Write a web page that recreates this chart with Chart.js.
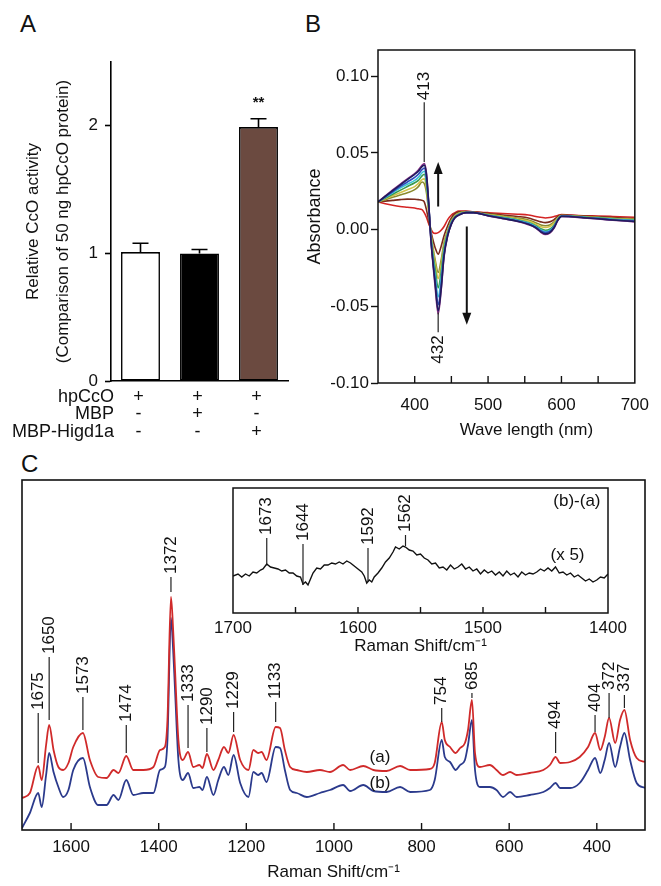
<!DOCTYPE html>
<html>
<head>
<meta charset="utf-8">
<script src="https://cdn.jsdelivr.net/npm/chart.js@4.4.0/dist/chart.umd.min.js"></script>
<style>
  html, body { margin: 0; padding: 0; background: #fff; }
  body { width: 661px; height: 886px; position: relative; overflow: hidden; font-family: 'Liberation Sans', Arial, Helvetica, sans-serif; }
  canvas { position: absolute; }
  .plabel { position: absolute; font-size: 24px; line-height: 24px; color: #111; }
</style>
</head>
<body>
<div class="plabel" style="left:20px;top:12px">A</div>
<div class="plabel" style="left:305px;top:12px">B</div>
<div class="plabel" style="left:21px;top:452px">C</div>
<canvas id="cA" width="300" height="450" style="left:0;top:0"></canvas>
<canvas id="cB" width="361" height="450" style="left:300px;top:0"></canvas>
<canvas id="cC" width="661" height="446" style="left:0;top:440px"></canvas>
<canvas id="cI" width="440" height="190" style="left:200px;top:470px"></canvas>
<script>
// ---------------- DATA ----------------
// Panel A
const catsA = ['hpCcO', 'hpCcO + MBP', 'hpCcO + MBP-Higd1a'];
const valsA = [1.01, 1.00, 1.99];
const errA = [0.07, 0.03, 0.065];
const sigA = ['', '', '**'];
const yTicksA = [0, 1, 2];
const rowLabelsA = ['hpCcO', 'MBP', 'MBP-Higd1a'];
const signsA = [['+', '+', '+'], ['-', '+', '-'], ['-', '-', '+']];
const yTitleA = ['Relative CcO activity', '(Comparison of 50 ng hpCcO protein)'];

// Panel B (wavelength, nm) and difference absorbance traces
const wlB = [350,360,370,380,390,400,405,410,413,416,419,422,425,428,432,436,440,445,450,455,460,470,480,500,520,540,555,565,572,578,584,590,595,600,610,630,650,670,700];
const absNavy   = [.018,.0217,.0254,.029,.0325,.036,.038,.041,.042,.036,.018,-.006,-.022,-.036,-.053,-.039,-.017,-.004,.0035,.0078,.0094,.011,.011,.009,.0072,.0054,.0034,.0012,-.0015,-.0028,-.002,.0013,.006,.0086,.0085,.0077,.007,.0062,.0052];
const absPurple = [.018,.0219,.0258,.0295,.033,.0365,.0388,.0418,.043,.037,.018,-.006,-.023,-.038,-.055,-.040,-.018,-.004,.0035,.0077,.0093,.011,.011,.0089,.0071,.0053,.0032,.001,-.0018,-.0032,-.0023,.001,.0058,.0085,.0084,.0076,.0069,.0061,.005];
const absBlue   = [.018,.0213,.0246,.028,.031,.034,.036,.039,.040,.034,.017,-.005,-.021,-.033,-.049,-.036,-.016,-.0035,.004,.0078,.0096,.011,.011,.0091,.0074,.0057,.0038,.0016,-.0008,-.002,-.0012,.0018,.0063,.0087,.0086,.0078,.0072,.0064,.0056];
const absCyan   = [.018,.021,.024,.027,.0295,.032,.034,.037,.038,.032,.016,-.004,-.019,-.030,-.044,-.032,-.014,-.003,.0045,.008,.0098,.0111,.011,.0093,.0077,.006,.0042,.002,-.0002,-.0013,-.0006,.0022,.0065,.0088,.0087,.008,.0074,.0067,.006];
const absGreen  = [.018,.0205,.023,.0255,.028,.0305,.032,.035,.036,.030,.015,-.003,-.016,-.026,-.038,-.028,-.012,-.002,.005,.0083,.010,.0112,.0111,.0095,.008,.0063,.0046,.0025,.0005,-.0005,.0002,.0028,.0068,.0089,.0088,.0081,.0076,.0069,.0062];
const absYellow = [.018,.020,.022,.024,.026,.028,.030,.0325,.033,.027,.013,-.002,-.013,-.022,-.032,-.023,-.010,-.001,.0055,.0088,.0105,.0113,.0112,.0097,.0085,.007,.0055,.0035,.0018,.0013,.002,.0042,.0075,.0091,.0089,.0083,.0078,.0072,.0065];
const absOlive  = [.018,.0195,.021,.0225,.024,.026,.028,.031,.030,.024,.012,-.0015,-.012,-.020,-.028,-.020,-.0085,-.0005,.006,.009,.0108,.0115,.0113,.010,.0088,.0075,.0062,.0045,.003,.0025,.003,.005,.0078,.0092,.009,.0085,.008,.0074,.0068];
const absBrown  = [.018,.0185,.019,.0195,.0198,.0197,.0195,.019,.018,.013,.006,-.001,-.007,-.012,-.016,-.011,-.004,.0025,.0075,.0105,.0115,.0118,.0115,.0105,.0095,.0085,.0075,.006,.005,.0045,.005,.0065,.0085,.0095,.0093,.0088,.0083,.0078,.0072];
const absRed    = [.018,.0168,.0158,.015,.0145,.014,.0135,.013,.011,.008,.004,.0005,-.002,-.0025,-.002,-.0005,.002,.0065,.0095,.011,.012,.012,.0115,.011,.0105,.010,.0095,.0085,.008,.0075,.0078,.0085,.0092,.0098,.0095,.009,.0088,.0085,.008];
const yTicksB = [-0.10, -0.05, 0.00, 0.05, 0.10];
const xTicksB = [400, 450, 500, 550, 600, 650, 700];
const xTickLabelsB = ['400', '', '500', '', '600', '', '700'];
const peakB = [413, 432];
const peakBFrom = [0.044, -0.054];
const peakBTo = [0.083, -0.067];
const arrowNmB = [432, 471];
const arrowFromB = [0.015, 0.002];
const arrowToB = [0.044, -0.062];

// Panel C (Raman shift, cm-1), intensities (arbitrary units)
const shiftC = [1712,1694,1675,1667,1657,1650,1640,1629,1618,1606,1595,1573,1557,1538,1519,1503,1492,1474,1458,1435,1412,1397,1386,1380,1372,1367,1363,1355,1345,1333,1321,1307,1300,1290,1275,1264,1251,1241,1229,1214,1195,1184,1173,1165,1154,1133,1123,1112,1100,1085,1062,1032,1009,979,963,933,910,880,849,826,781,770,754,747,735,722,712,701,694,685,678,667,644,629,614,598,583,553,522,507,494,484,461,439,420,404,392,382,372,358,347,337,324,309,290];
const intA = [32,37,64,50,85,105,80,63,60,67,83,97,70,53,52,60,57,74,60,60,63,80,83,110,233,200,163,90,70,78,63,65,62,76,60,70,83,77,95,70,60,80,77,78,70,103,102,80,63,60,58,60,58,65,60,64,60,59,64,60,61,67,108,90,83,77,82,87,100,130,77,63,65,60,55,58,55,57,60,65,73,67,68,73,83,97,80,93,112,87,110,120,90,72,68];
const intB = [2,17,37,23,55,77,58,43,33,40,60,72,43,25,25,35,30,50,35,37,37,60,63,90,212,180,143,70,50,57,42,43,40,53,35,50,63,55,75,47,33,58,55,57,48,83,82,60,40,37,33,37,40,45,39,45,39,38,43,38,40,50,90,73,68,60,65,70,85,110,60,43,43,40,33,38,33,35,38,42,47,42,42,47,60,72,57,70,87,63,83,97,70,47,42];
const xTicksC = [400, 600, 800, 1000, 1200, 1400, 1600];
const xTickLabelsC = ['400', '600', '800', '1000', '1200', '1400', '1600'];
const peakC = [1675,1650,1573,1474,1372,1333,1290,1229,1133,754,685,494,404,372,337];
const peakLoC = [67,110,100,77,238,82,78,98,108,108,132,77,98,112,122];
const peakHiC = [117,173,133,105,253,125,102,118,128,122,137,98,115,137,135];
const traceLabelsC = ['(a)', '(b)'];
const traceLabelXC = [895, 895];
const traceLabelYC = [73, 47];

// Inset: difference spectrum (b)-(a), x5
const diffShift = [1700,1696,1693,1690,1687,1684,1681,1678,1676,1673,1670,1667,1664,1661,1658,1655,1652,1649,1646,1644,1642,1640,1638,1636,1633,1630,1627,1624,1621,1618,1615,1612,1609,1606,1603,1600,1597,1595,1593,1591,1589,1587,1584,1581,1578,1575,1572,1570,1567,1564,1562,1559,1556,1553,1550,1547,1544,1541,1538,1535,1532,1529,1526,1523,1520,1517,1514,1511,1508,1505,1502,1499,1496,1493,1490,1487,1484,1481,1478,1475,1472,1469,1466,1463,1460,1457,1454,1451,1448,1445,1442,1439,1436,1433,1430,1427,1424,1421,1418,1415,1412,1409,1406,1403,1400];
const diffInt = [37,39,36,39,37,41,40,43,44,49,46,45,44,42,43,40,40,37,36,29,31,28,34,40,45,44,48,48,50,49,51,49,52,50,47,44,41,37,30,33,31,36,40,45,51,55,61,66,64,67,66,63,62,58,59,55,53,49,50,45,46,43,48,44,46,49,44,46,42,44,39,43,40,42,38,41,37,42,38,40,36,41,38,40,39,41,44,42,45,42,46,40,41,38,40,36,38,35,32,34,31,33,36,35,39];
const xTicksIn = [1400, 1450, 1500, 1550, 1600, 1650, 1700];
const xTickLabelsIn = ['1400', '', '1500', '', '1600', '', '1700'];
const peakIn = [1673, 1644, 1592, 1562];
const peakInLo = [49, 28, 31, 67];
const peakInHi = [75, 69, 65, 78];

// ---------------- STYLE / HELPERS ----------------
const FONT = "'Liberation Sans', Arial, Helvetica, sans-serif";
Chart.defaults.font.family = FONT;
Chart.defaults.color = '#111';
Chart.defaults.animation = false;
Chart.defaults.events = [];
Chart.defaults.plugins.legend.display = false;
Chart.defaults.plugins.tooltip.enabled = false;

function vtext(ctx, s, x, y, align) {
  ctx.save();
  ctx.translate(x, y);
  ctx.rotate(-Math.PI / 2);
  ctx.textAlign = align;
  ctx.textBaseline = 'middle';
  ctx.fillText(s, 0, 0);
  ctx.restore();
}
function boxPlugin(lw) {
  return { id: 'box', afterDraw(c) {
    const a = c.chartArea, ctx = c.ctx;
    ctx.save(); ctx.strokeStyle = '#111'; ctx.lineWidth = lw;
    ctx.strokeRect(a.left, a.top, a.right - a.left, a.bottom - a.top);
    ctx.restore();
  }};
}
function inTicksPlugin(len) {
  return { id: 'inTicks', afterDraw(c) {
    const a = c.chartArea, ctx = c.ctx, xs = c.scales.x;
    ctx.save(); ctx.strokeStyle = '#111'; ctx.lineWidth = 1.4;
    xs.ticks.forEach(t => {
      const px = xs.getPixelForValue(t.value);
      if (px <= a.left + 1 || px >= a.right - 1) return;
      ctx.beginPath(); ctx.moveTo(px, a.bottom); ctx.lineTo(px, a.bottom - len); ctx.stroke();
    });
    ctx.restore();
  }};
}
const fixTicks = vals => s => { s.ticks = vals.map(v => ({ value: v })); };

// ---------------- PANEL A ----------------
new Chart(document.getElementById('cA'), {
  type: 'bar',
  data: { labels: catsA, datasets: [{
    data: valsA, backgroundColor: ['#ffffff', '#000000', '#6b4a40'],
    borderColor: '#000', borderWidth: 1.6, borderSkipped: false,
    barPercentage: 0.66, categoryPercentage: 1 }] },
  options: {
    responsive: false,
    layout: { padding: { left: 18, top: 62, right: 12, bottom: 69 } },
    scales: {
      x: { grid: { display: false, drawTicks: false }, ticks: { display: false },
           border: { color: '#000', width: 1.6 }, afterFit: s => { s.height = 0; } },
      y: { min: 0, max: 2.5, bounds: 'data', afterBuildTicks: fixTicks(yTicksA),
           grid: { drawOnChartArea: false, tickLength: 6, color: '#000', tickWidth: 1.6 },
           border: { color: '#000', width: 1.6 },
           ticks: { font: { size: 17 }, padding: 7, color: '#111', autoSkip: false },
           title: { display: true, text: yTitleA, font: { size: 17, lineHeight: '30px' }, padding: 0, color: '#111' },
           afterFit: s => { s.width = 93; } }
    }
  },
  plugins: [{
    id: 'errA',
    afterDatasetsDraw(c) {
      const ctx = c.ctx, xs = c.scales.x, ys = c.scales.y, a = c.chartArea;
      ctx.save(); ctx.strokeStyle = '#000'; ctx.lineWidth = 1.6;
      valsA.forEach((v, i) => {
        const x = xs.getPixelForValue(i);
        const y0 = ys.getPixelForValue(v), y1 = ys.getPixelForValue(v + errA[i]);
        ctx.beginPath(); ctx.moveTo(x, y0); ctx.lineTo(x, y1);
        ctx.moveTo(x - 8, y1); ctx.lineTo(x + 8, y1); ctx.stroke();
        if (sigA[i]) {
          ctx.fillStyle = '#111'; ctx.font = 'bold 15px ' + FONT; ctx.textAlign = 'center'; ctx.textBaseline = 'middle';
          ctx.fillText(sigA[i], x, y1 - 16);
        }
      });
      // condition table
      ctx.fillStyle = '#111'; ctx.font = '18px ' + FONT; ctx.textBaseline = 'middle';
      rowLabelsA.forEach((lab, r) => {
        const y = a.bottom + 16 + r * 17.5;
        ctx.textAlign = 'right'; ctx.fillText(lab, a.left + 3, y);
        ctx.textAlign = 'center';
        signsA[r].forEach((s, i) => ctx.fillText(s, xs.getPixelForValue(i) - 2, y));
      });
      ctx.restore();
    }
  }]
});

// ---------------- PANEL B ----------------
const tracesB = [absNavy, absPurple, absBlue, absCyan, absGreen, absYellow, absOlive, absBrown, absRed];
const colorsB = ['#1d1d5e', '#8a2f86', '#2f4bbd', '#3cc3d6', '#3a9a4e', '#d2c24a', '#8a8a2e', '#7a2b1c', '#d42424'];
new Chart(document.getElementById('cB'), {
  type: 'line',
  data: { datasets: tracesB.map((tr, k) => ({
    data: wlB.map((w, i) => ({ x: w, y: tr[i] })),
    borderColor: colorsB[k], borderWidth: 1.6, pointRadius: 0, fill: false,
    cubicInterpolationMode: 'monotone' })) },
  options: {
    responsive: false,
    layout: { padding: { left: 4, top: 50, right: 18, bottom: 10 } },
    scales: {
      x: { type: 'linear', min: 350, max: 700, bounds: 'data', afterBuildTicks: fixTicks(xTicksB),
           grid: { display: false, drawTicks: false }, border: { display: false },
           ticks: { font: { size: 17 }, padding: 12, color: '#111', autoSkip: false, maxRotation: 0,
                    callback: (v, i) => xTickLabelsB[i] },
           afterFit: s => { s.height = 57; } },
      y: { min: -0.10, max: 0.117, bounds: 'data', afterBuildTicks: fixTicks(yTicksB),
           grid: { drawOnChartArea: false, tickLength: 7, color: '#111', tickWidth: 1.4 },
           border: { display: false },
           ticks: { font: { size: 17 }, padding: 2, color: '#111', autoSkip: false,
                    callback: v => v.toFixed(2) },
           title: { display: true, text: 'Absorbance', font: { size: 18 }, padding: 0, color: '#111' },
           afterFit: s => { s.width = 74; } }
    }
  },
  plugins: [boxPlugin(1.5), inTicksPlugin(7), {
    id: 'annB',
    afterDatasetsDraw(c) {
      const ctx = c.ctx, xs = c.scales.x, ys = c.scales.y, a = c.chartArea;
      ctx.save(); ctx.strokeStyle = '#222'; ctx.fillStyle = '#111'; ctx.lineWidth = 1.2;
      ctx.font = '17px ' + FONT;
      peakB.forEach((p, i) => {
        const x = xs.getPixelForValue(p);
        const y1 = ys.getPixelForValue(peakBFrom[i]), y2 = ys.getPixelForValue(peakBTo[i]);
        ctx.beginPath(); ctx.moveTo(x, y1); ctx.lineTo(x, y2); ctx.stroke();
        if (y2 < y1) vtext(ctx, String(p), x, y2 - 2, 'left');
        else vtext(ctx, String(p), x, y2 + 3, 'right');
      });
      ctx.lineWidth = 2; ctx.strokeStyle = '#111';
      arrowNmB.forEach((n, i) => {
        const x = xs.getPixelForValue(n);
        const y1 = ys.getPixelForValue(arrowFromB[i]), y2 = ys.getPixelForValue(arrowToB[i]);
        const dir = y2 < y1 ? -1 : 1;
        ctx.beginPath(); ctx.moveTo(x, y1); ctx.lineTo(x, y2 - dir * 10); ctx.stroke();
        ctx.beginPath(); ctx.moveTo(x, y2); ctx.lineTo(x - 4.5, y2 - dir * 12); ctx.lineTo(x + 4.5, y2 - dir * 12); ctx.closePath(); ctx.fill();
      });
      ctx.font = '17px ' + FONT; ctx.textAlign = 'center'; ctx.textBaseline = 'middle';
      ctx.fillText('Wave length (nm)', (a.left + a.right) / 2 + 20, a.bottom + 47);
      ctx.restore();
    }
  }]
});

// ---------------- PANEL C ----------------
new Chart(document.getElementById('cC'), {
  type: 'line',
  data: { datasets: [
    { data: shiftC.map((s, i) => ({ x: s, y: intA[i] })), borderColor: '#d02a2a', borderWidth: 1.8, pointRadius: 0, cubicInterpolationMode: 'monotone' },
    { data: shiftC.map((s, i) => ({ x: s, y: intB[i] })), borderColor: '#2b3a8c', borderWidth: 1.8, pointRadius: 0, cubicInterpolationMode: 'monotone' }
  ] },
  options: {
    responsive: false,
    layout: { padding: { left: 22, top: 40, right: 16, bottom: 3 } },
    scales: {
      x: { type: 'linear', min: 290, max: 1712, reverse: true, bounds: 'data', afterBuildTicks: fixTicks(xTicksC),
           grid: { display: false, drawTicks: false }, border: { display: false },
           ticks: { font: { size: 17 }, padding: 7, color: '#111', autoSkip: false, maxRotation: 0,
                    callback: (v, i) => xTickLabelsC[i] },
           title: { display: true, text: 'Raman Shift/cm\u207B\u00B9', font: { size: 17 }, padding: 0, color: '#111' },
           afterFit: s => { s.height = 53; } },
      y: { display: false, min: 0, max: 350, bounds: 'data' }
    }
  },
  plugins: [boxPlugin(1.6), inTicksPlugin(7), {
    id: 'annC',
    afterDatasetsDraw(c) {
      const ctx = c.ctx, xs = c.scales.x, ys = c.scales.y;
      ctx.save(); ctx.strokeStyle = '#222'; ctx.fillStyle = '#111'; ctx.lineWidth = 1.2;
      ctx.font = '17px ' + FONT;
      peakC.forEach((p, i) => {
        const x = xs.getPixelForValue(p);
        const y1 = ys.getPixelForValue(peakLoC[i]), y2 = ys.getPixelForValue(peakHiC[i]);
        ctx.beginPath(); ctx.moveTo(x, y1); ctx.lineTo(x, y2); ctx.stroke();
        vtext(ctx, String(p), x, y2 - 3, 'left');
      });
      ctx.textAlign = 'center'; ctx.textBaseline = 'middle';
      traceLabelsC.forEach((t, i) => ctx.fillText(t, xs.getPixelForValue(traceLabelXC[i]), ys.getPixelForValue(traceLabelYC[i])));
      ctx.restore();
    }
  }]
});

// ---------------- INSET ----------------
new Chart(document.getElementById('cI'), {
  type: 'line',
  data: { datasets: [
    { data: diffShift.map((s, i) => ({ x: s, y: diffInt[i] })), borderColor: '#111', borderWidth: 1.4, pointRadius: 0, tension: 0 }
  ] },
  options: {
    responsive: false,
    layout: { padding: { left: 33, top: 18, right: 32, bottom: 3 } },
    scales: {
      x: { type: 'linear', min: 1400, max: 1700, reverse: true, bounds: 'data', afterBuildTicks: fixTicks(xTicksIn),
           grid: { display: false, drawTicks: false }, border: { display: false },
           ticks: { font: { size: 17 }, padding: 5, color: '#111', autoSkip: false, maxRotation: 0,
                    callback: (v, i) => xTickLabelsIn[i] },
           title: { display: true, text: 'Raman Shift/cm\u207B\u00B9', font: { size: 17 }, padding: 0, color: '#111' },
           afterFit: s => { s.height = 44; } },
      y: { display: false, min: 0, max: 125, bounds: 'data' }
    }
  },
  plugins: [boxPlugin(1.5), inTicksPlugin(6), {
    id: 'annI',
    afterDatasetsDraw(c) {
      const ctx = c.ctx, xs = c.scales.x, ys = c.scales.y;
      ctx.save(); ctx.strokeStyle = '#222'; ctx.fillStyle = '#111'; ctx.lineWidth = 1.2;
      ctx.font = '17px ' + FONT;
      peakIn.forEach((p, i) => {
        const x = xs.getPixelForValue(p);
        const y1 = ys.getPixelForValue(peakInLo[i]), y2 = ys.getPixelForValue(peakInHi[i]);
        ctx.beginPath(); ctx.moveTo(x, y1); ctx.lineTo(x, y2); ctx.stroke();
        vtext(ctx, String(p), x, y2 - 3, 'left');
      });
      ctx.textBaseline = 'middle';
      ctx.textAlign = 'right'; ctx.fillText('(b)-(a)', xs.getPixelForValue(1406), ys.getPixelForValue(112));
      ctx.textAlign = 'left'; ctx.fillText('(x 5)', xs.getPixelForValue(1446), ys.getPixelForValue(58));
      ctx.restore();
    }
  }]
});
</script>
</body>
</html>
